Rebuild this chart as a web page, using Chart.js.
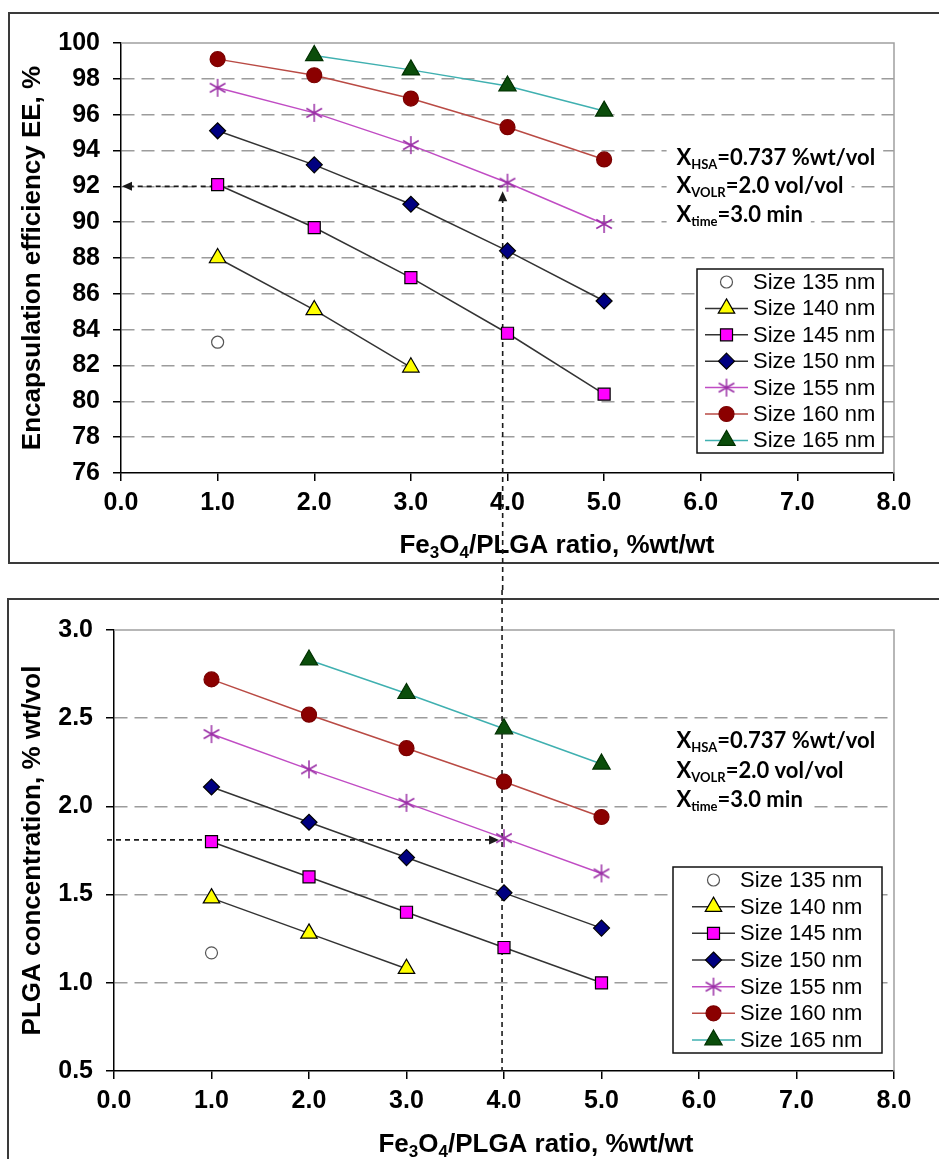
<!DOCTYPE html>
<html>
<head>
<meta charset="utf-8">
<script src="https://cdn.jsdelivr.net/npm/chart.js@4.4.1/dist/chart.umd.min.js"></script>
<style>
  body { margin: 0; background: #fff; }
  canvas { display: block; }
</style>
</head>
<body>
<canvas id="eeChart" width="939" height="590"></canvas>
<canvas id="plgaChart" width="939" height="569"></canvas>
<script>
/* Dane: stosunek Fe3O4/PLGA (os x) */
var ratio = [1, 2, 3, 4, 5];
var sizeLabels = ['Size 135 nm', 'Size 140 nm', 'Size 145 nm', 'Size 150 nm', 'Size 155 nm', 'Size 160 nm', 'Size 165 nm'];

/* Encapsulation efficiency EE, % */
var ee135 = [83.3, null, null, null, null];
var ee140 = [88.0, 85.1, 81.9, null, null];
var ee145 = [92.1, 89.7, 86.9, 83.8, 80.4];
var ee150 = [95.1, 93.2, 91.0, 88.4, 85.6];
var ee155 = [97.5, 96.1, 94.3, 92.2, 89.9];
var ee160 = [99.1, 98.2, 96.9, 95.3, 93.5];
var ee165 = [null, 99.3, 98.5, 97.6, 96.2];

/* PLGA concentration, % wt/vol */
var plga135 = [1.17, null, null, null, null];
var plga140 = [1.48, 1.28, 1.08, null, null];
var plga145 = [1.80, 1.60, 1.40, 1.20, 1.00];
var plga150 = [2.11, 1.91, 1.71, 1.51, 1.31];
var plga155 = [2.41, 2.21, 2.02, 1.82, 1.62];
var plga160 = [2.72, 2.52, 2.33, 2.14, 1.94];
var plga165 = [null, 2.83, 2.64, 2.44, 2.24];

/* Podzialki osi */
var ratioTicks = [0, 1, 2, 3, 4, 5, 6, 7, 8];
var eeTicks = [76, 78, 80, 82, 84, 86, 88, 90, 92, 94, 96, 98, 100];
var plgaTicks = [0.5, 1.0, 1.5, 2.0, 2.5, 3.0];

/* Linie pomocnicze (x, y) */
var guideEE = [3.95, 92.0];
var guidePLGA = [3.98, 1.81];

var FONT = "'Liberation Sans', Arial, sans-serif";
var NOTE_FONT = "Lato, 'Open Sans', sans-serif";
Chart.defaults.font.family = FONT;
Chart.defaults.color = '#000';

var xTitleRuns = [['Fe', 0], ['3', 1], ['O', 0], ['4', 1], ['/PLGA ratio, %wt/wt', 0]];
var noteRuns = [
    [['X', 0], ['HSA', 1], ['=0.737 %wt/vol', 0]],
    [['X', 0], ['VOLR', 1], ['=2.0 vol/vol', 0]],
    [['X', 0], ['time', 1], ['=3.0 min', 0]]
];

/* Gwiazdka jak w Excelu */
var makeStar = function (r, color) {
    var cv = document.createElement('canvas');
    var s = Math.ceil(2 * r + 4);
    cv.width = s; cv.height = s;
    var g = cv.getContext('2d');
    var m = s / 2;
    g.strokeStyle = color;
    g.lineWidth = 1.5;
    g.beginPath();
    for (var k = 0; k < 3; k++) {
        var ang = Math.PI / 2 + k * Math.PI / 3;
        g.moveTo(m + Math.cos(ang) * r, m - Math.sin(ang) * r);
        g.lineTo(m - Math.cos(ang) * r, m + Math.sin(ang) * r);
    }
    g.stroke();
    return cv;
};
var starImg = makeStar(9, '#9a2fa6');

var sizeStyles = [
    { style: 'circle', r: 6, fill: '#ffffff', edge: '#555555', line: null },
    { style: 'triangle', r: 9.5, fill: '#ffff00', edge: '#000000', line: '#333333' },
    { style: 'rect', r: 8.5, fill: '#ff00ff', edge: '#000000', line: '#333333' },
    { style: 'rectRot', r: 8, fill: '#000080', edge: '#000000', line: '#333333' },
    { style: starImg, r: 9, fill: '#9a2fa6', edge: '#9a2fa6', line: '#c04cc4' },
    { style: 'circle', r: 7.5, fill: '#8b0000', edge: '#7a0000', line: '#b94a44' },
    { style: 'triangle', r: 10, fill: '#0b4d0b', edge: '#003000', line: '#3fb0b0' }
];

var buildSets = function (series) {
    return series.map(function (vals, i) {
        var st = sizeStyles[i];
        return {
            label: sizeLabels[i],
            data: ratio.map(function (x, j) { return { x: x, y: vals[j] }; }),
            showLine: st.line !== null,
            borderColor: st.line || st.edge,
            borderWidth: 1.5,
            pointStyle: st.style,
            pointRadius: st.r,
            pointHoverRadius: st.r,
            pointBackgroundColor: st.fill,
            pointBorderColor: st.edge,
            pointBorderWidth: 1.2,
            fill: false,
            tension: 0
        };
    });
};

var runsWidth = function (c, runs, size, subSize, weight, family) {
    var w = 0;
    runs.forEach(function (r) {
        c.font = weight + ' ' + (r[1] ? subSize : size) + 'px ' + family;
        w += c.measureText(r[0]).width;
    });
    return w;
};

var drawRuns = function (c, runs, x, y, size, subSize, drop, weight, family) {
    c.textAlign = 'left';
    c.textBaseline = 'alphabetic';
    runs.forEach(function (r) {
        c.font = weight + ' ' + (r[1] ? subSize : size) + 'px ' + family;
        c.fillText(r[0], x, y + (r[1] ? drop : 0));
        x += c.measureText(r[0]).width;
    });
};

var arrowHead = function (c, x, y, dx, dy) {
    var len = 10, half = 4.5;
    c.beginPath();
    c.moveTo(x, y);
    c.lineTo(x - dx * len - dy * half, y - dy * len + dx * half);
    c.lineTo(x - dx * len + dy * half, y - dy * len - dx * half);
    c.closePath();
    c.fill();
};

var markerPath = function (c, style, x, y, r) {
    c.beginPath();
    if (style === 'circle') {
        c.arc(x, y, r, 0, 2 * Math.PI);
    } else if (style === 'triangle') {
        c.moveTo(x, y - r);
        c.lineTo(x + r * 0.866, y + r * 0.5);
        c.lineTo(x - r * 0.866, y + r * 0.5);
        c.closePath();
    } else if (style === 'rect') {
        var s = r * Math.SQRT1_2;
        c.rect(x - s, y - s, 2 * s, 2 * s);
    } else if (style === 'rectRot') {
        c.moveTo(x, y - r); c.lineTo(x + r, y); c.lineTo(x, y + r); c.lineTo(x - r, y);
        c.closePath();
    }
};

var decor = {
    id: 'decor',
    beforeDraw: function (chart, args, o) {
        var c = chart.ctx;
        c.save();
        c.fillStyle = '#ffffff';
        c.fillRect(0, 0, chart.width, chart.height);
        c.strokeStyle = '#3a3a3a';
        c.lineWidth = 2;
        c.strokeRect(o.box[0], o.box[1], o.box[2], o.box[3]);
        c.restore();
    },
    beforeDatasetsDraw: function (chart, args, o) {
        var c = chart.ctx, a = chart.chartArea, sx = chart.scales.x, sy = chart.scales.y;
        c.save();
        /* ramka obszaru wykresu */
        c.strokeStyle = '#a0a0a0';
        c.lineWidth = 1.5;
        c.beginPath();
        c.moveTo(a.left, a.top); c.lineTo(a.right, a.top); c.lineTo(a.right, a.bottom);
        c.stroke();

        /* tytul osi x z indeksami */
        c.fillStyle = '#000';
        var tw = runsWidth(c, xTitleRuns, 26, 17, 'bold', FONT);
        drawRuns(c, xTitleRuns, a.left + o.xTitle[0] * (a.right - a.left) - tw / 2, a.bottom + o.xTitle[1], 26, 17, 5, 'bold', FONT);

        /* opis warunkow */
        var nx = sx.getPixelForValue(o.note[0]);
        var ny = sy.getPixelForValue(o.note[1]);
        noteRuns.forEach(function (runs, i) {
            var by = ny + i * o.note[2];
            var w = runsWidth(c, runs, 22, 13, 'bold', NOTE_FONT);
            c.fillStyle = '#ffffff';
            c.fillRect(nx - 10, by - 20, w + 18, 27);
            c.fillStyle = '#000';
            drawRuns(c, runs, nx, by, 22, 13, 4, 'bold', NOTE_FONT);
        });

        /* linie pomocnicze */
        var gx = sx.getPixelForValue(o.guide[0]);
        var gy = sy.getPixelForValue(o.guide[1]);
        c.strokeStyle = '#1a1a1a';
        c.fillStyle = '#1a1a1a';
        c.lineWidth = 1.6;
        c.setLineDash([5, 4]);
        c.beginPath();
        if (o.guideMode === 'top') {
            c.moveTo(gx, gy); c.lineTo(a.left + 10, gy);
            c.moveTo(gx, chart.height); c.lineTo(gx, gy + 14);
        } else {
            c.moveTo(gx, 0); c.lineTo(gx, a.bottom);
            c.moveTo(a.left - 7, gy); c.lineTo(gx - 12, gy);
        }
        c.stroke();
        c.setLineDash([]);
        if (o.guideMode === 'top') {
            arrowHead(c, a.left + 1, gy, -1, 0);
            arrowHead(c, gx, gy + 5, 0, -1);
        } else {
            arrowHead(c, gx - 3, gy, 1, 0);
        }
        c.restore();
    },
    afterDatasetsDraw: function (chart, args, o) {
        var c = chart.ctx, a = chart.chartArea, L = o.legend;
        var bx = a.right - L.right - L.w;
        var by = a.bottom - L.bottom - L.h;
        c.save();
        c.fillStyle = '#ffffff';
        c.fillRect(bx, by, L.w, L.h);
        c.strokeStyle = '#111';
        c.lineWidth = 1.5;
        c.strokeRect(bx, by, L.w, L.h);
        chart.data.datasets.forEach(function (ds, i) {
            var cy = by + L.first + i * L.step;
            var mx = bx + L.lineX + L.lineLen / 2;
            if (ds.showLine) {
                c.strokeStyle = ds.borderColor;
                c.lineWidth = 1.5;
                c.beginPath();
                c.moveTo(bx + L.lineX, cy); c.lineTo(bx + L.lineX + L.lineLen, cy);
                c.stroke();
            }
            if (typeof ds.pointStyle === 'string') {
                markerPath(c, ds.pointStyle, mx, cy, ds.pointRadius);
                c.fillStyle = ds.pointBackgroundColor;
                c.fill();
                c.strokeStyle = ds.pointBorderColor;
                c.lineWidth = 1.2;
                c.stroke();
            } else {
                c.drawImage(ds.pointStyle, mx - ds.pointStyle.width / 2, cy - ds.pointStyle.height / 2);
            }
            c.fillStyle = '#000';
            c.font = '22px ' + FONT;
            c.textAlign = 'left';
            c.textBaseline = 'middle';
            c.fillText(ds.label, bx + L.textX, cy + 1);
        });
        c.restore();
    }
};

var makeOptions = function (cfg) {
    return {
        responsive: false,
        maintainAspectRatio: false,
        animation: false,
        layout: { padding: { top: cfg.padTop, right: 45, left: 0, bottom: 0 } },
        plugins: {
            legend: { display: false },
            tooltip: { enabled: false },
            decor: cfg.decor
        },
        scales: {
            x: {
                type: 'linear',
                min: 0,
                max: 8,
                afterBuildTicks: function (s) { s.ticks = ratioTicks.map(function (v) { return { value: v }; }); },
                afterFit: function (s) { s.height = cfg.xHeight; },
                ticks: {
                    autoSkip: false,
                    maxRotation: 0,
                    padding: 7,
                    font: { size: 25, weight: 'bold' },
                    color: '#000',
                    callback: function (v) { return Number(v).toFixed(1); }
                },
                grid: { drawOnChartArea: false, tickLength: 8, tickColor: '#000', tickWidth: 1.5, lineWidth: 1.5 },
                border: { color: '#000', width: 1.5 }
            },
            y: {
                min: cfg.yTicks[0],
                max: cfg.yTicks[cfg.yTicks.length - 1],
                afterBuildTicks: function (s) { s.ticks = cfg.yTicks.map(function (v) { return { value: v }; }); },
                afterFit: function (s) { s.width = cfg.yWidth; },
                ticks: {
                    autoSkip: false,
                    padding: 13,
                    font: { size: 25, weight: 'bold' },
                    color: '#000',
                    callback: cfg.yFormat
                },
                grid: {
                    color: function (ctx) {
                        var v = ctx.tick ? ctx.tick.value : null;
                        return (v === cfg.yTicks[0] || v === cfg.yTicks[cfg.yTicks.length - 1]) ? 'rgba(0,0,0,0)' : '#9c9c9c';
                    },
                    lineWidth: 1.5,
                    tickLength: 8,
                    tickColor: '#000',
                    tickWidth: 1.5
                },
                border: { color: '#000', width: 1.5, dash: [13, 7] },
                title: {
                    display: true,
                    text: cfg.yTitle,
                    color: '#000',
                    font: { size: 26, weight: 'bold' },
                    padding: { top: 17, bottom: 0 }
                }
            }
        }
    };
};

var chartEE = new Chart(document.getElementById('eeChart'), {
    type: 'line',
    data: { datasets: buildSets([ee135, ee140, ee145, ee150, ee155, ee160, ee165]) },
    options: makeOptions({
        padTop: 43,
        xHeight: 117,
        yWidth: 121,
        yTicks: eeTicks,
        yTitle: 'Encapsulation efficiency EE, %',
        yFormat: function (v) { return String(v); },
        decor: {
            box: [9, 13, 1000, 550],
            xTitle: [0.564, 80],
            note: [5.75, 93.2, 28.5],
            guide: guideEE,
            guideMode: 'top',
            legend: { right: 11, bottom: 20, w: 186, h: 184, lineX: 8, lineLen: 43, textX: 56, first: 13, step: 26.4 }
        }
    }),
    plugins: [decor]
});

var chartPLGA = new Chart(document.getElementById('plgaChart'), {
    type: 'line',
    data: { datasets: buildSets([plga135, plga140, plga145, plga150, plga155, plga160, plga165]) },
    options: makeOptions({
        padTop: 40,
        xHeight: 88,
        yWidth: 114,
        yTicks: plgaTicks,
        yTitle: 'PLGA concentration, % wt/vol',
        yFormat: function (v) { return Number(v).toFixed(1); },
        decor: {
            box: [8, 9, 1000, 1000],
            xTitle: [0.541, 81],
            note: [5.77, 2.33, 29.5],
            guide: guidePLGA,
            guideMode: 'bottom',
            legend: { right: 12, bottom: 18, w: 209, h: 186, lineX: 19, lineLen: 43, textX: 67, first: 13, step: 26.67 }
        }
    }),
    plugins: [decor]
});
</script>
</body>
</html>
